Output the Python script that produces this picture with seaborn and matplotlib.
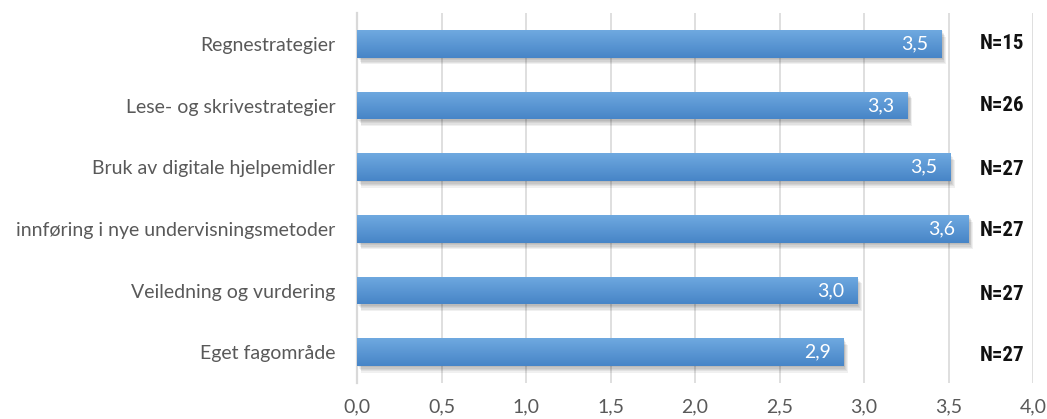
import numpy as np
import pandas as pd
import matplotlib
matplotlib.use("Agg")
import matplotlib.pyplot as plt
import matplotlib.patheffects as pe
from matplotlib.colors import LinearSegmentedColormap
import seaborn as sns

categories = ["Regnestrategier", "Lese- og skrivestrategier", "Bruk av digitale hjelpemidler",
              "innføring i nye undervisningsmetoder", "Veiledning og vurdering", "Eget fagområde"]
means = [3.46, 3.26, 3.51, 3.62, 2.96, 2.88]
value_labels = ["3,5", "3,3", "3,5", "3,6", "3,0", "2,9"]
n_labels = ["N=15", "N=26", "N=27", "N=27", "N=27", "N=27"]
xticks = [0.0, 0.5, 1.0, 1.5, 2.0, 2.5, 3.0, 3.5, 4.0]
xtick_labels = ["0,0", "0,5", "1,0", "1,5", "2,0", "2,5", "3,0", "3,5", "4,0"]

sns.set_theme(style="white")
plt.rcParams['font.family'] = ['Lato', 'DejaVu Sans']

df = pd.DataFrame({"cat": categories, "mean": means})

fig = plt.figure(figsize=(10.47, 4.19), dpi=100)
ax = fig.add_axes([357/1047, 1-383/419, (1033-357)/1047, (383-13)/419])

sns.barplot(data=df, x="mean", y="cat", orient="h", color="#5b9bd5", width=0.454,
            ax=ax, zorder=3, linewidth=0)

grad = LinearSegmentedColormap.from_list("g", ["#6fa9e0", "#4785c7"])
gimg = np.linspace(0, 1, 64).reshape(-1, 1)
shadows = [pe.SimplePatchShadow(offset=(o * 0.8, -o * 1.2), shadow_rgbFace="#000000", alpha=0.06)
           for o in (0.8, 1.6, 2.4, 3.2, 4.0)]
for p in ax.patches:
    p.set_edgecolor("none")
    p.set_linewidth(0)
    p.set_path_effects(shadows + [pe.Normal()])
    x0, y0 = p.get_x(), p.get_y()
    w, h = p.get_width(), p.get_height()
    im = ax.imshow(gimg, cmap=grad, aspect="auto", extent=[x0, x0 + w, y0 + h, y0],
                   origin="upper", zorder=4, interpolation="bilinear")
    im.set_clip_path(p)

ax.set_xlim(0, 4.0)
ax.set_ylim(5.5, -0.5)
ax.set_xticks(xticks)
ax.set_xticklabels(xtick_labels, fontsize=14, color="#595959")
ax.tick_params(axis="y", labelsize=14, labelcolor="#595959", length=0, pad=15.5)
ax.tick_params(axis="x", length=0, pad=11)
ax.set_xlabel("")
ax.set_ylabel("")
ax.grid(axis="x", color="#d9d9d9", linewidth=1.2, zorder=0)
ax.set_axisbelow(True)
for s in ["top", "right", "bottom"]:
    ax.spines[s].set_visible(False)
ax.spines["left"].set_color("#d9d9d9")
ax.spines["left"].set_linewidth(1.6)

for i, (m, lab) in enumerate(zip(means, value_labels)):
    ax.annotate(lab, xy=(m, i), xytext=(-9.5, 0), textcoords="offset points",
                ha="right", va="center", color="white", fontsize=14, zorder=6)

for i, nl in enumerate(n_labels):
    dy = 0.03 if i >= 2 else 0.0
    ax.text(3.685, i + dy + (0.03 if i >= 4 else 0), nl, ha="left", va="center",
            fontsize=15, fontweight="bold", color="#111111", fontstretch="condensed",
            family=["Noto Sans Condensed", "Roboto Condensed", "Open Sans Condensed", "Lato"],
            zorder=6)

fig.savefig("out.png", dpi=100)
